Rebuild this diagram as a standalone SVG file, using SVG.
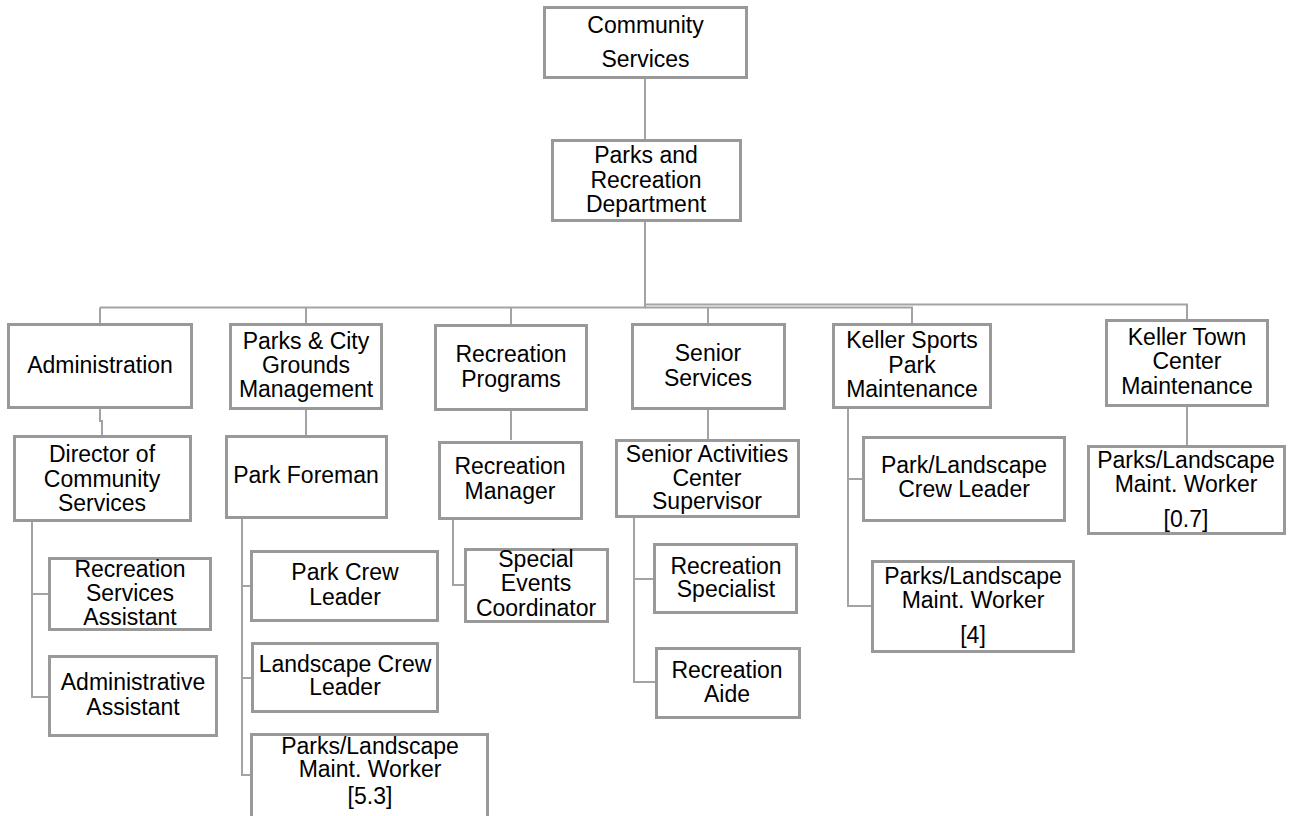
<svg xmlns="http://www.w3.org/2000/svg" width="1289" height="816" viewBox="0 0 1289 816">
<style>
.box{fill:#fff;stroke:#999;stroke-width:3}
.conn{fill:none;stroke:#a3a3a3;stroke-width:2}
text{font-family:"Liberation Sans",Arial,sans-serif;font-size:23px;fill:#000;text-anchor:middle}
</style>
<rect x="0" y="0" width="1289" height="816" fill="#fff"/>
<g id="connectors">
<path class="conn" d="M645,79 V140"/>
<path class="conn" d="M645,222 V307.5"/>
<path class="conn" d="M100,307.5 H646"/>
<path class="conn" d="M645,304.5 H1187 V320"/>
<path class="conn" d="M645,307.5 H912 V323"/>
<path class="conn" d="M100,307.5 V323 M306,307.5 V323 M511,307.5 V324 M708,307.5 V323"/>
<path class="conn" d="M100,409 V421 H102 V435"/>
<path class="conn" d="M306,410 V435"/>
<path class="conn" d="M511,411 V440"/>
<path class="conn" d="M708,410 V439"/>
<path class="conn" d="M1187,407 V445"/>
<path class="conn" d="M32,522 V697 H48 M32,594 H48"/>
<path class="conn" d="M242,519 V775 H250 M242,586 H250 M242,678 H251"/>
<path class="conn" d="M453,520 V585 H464"/>
<path class="conn" d="M634,518 V682 H655 M634,579 H653"/>
<path class="conn" d="M848,409 V606 H871 M848,479 H862"/>
</g>
<g id="community-services"><rect class="box" x="544.5" y="7.5" width="202" height="70"/><text x="645.5" y="33">Community</text><text x="645.5" y="67">Services</text></g>
<g id="parks-rec-dept"><rect class="box" x="552.5" y="140.5" width="188" height="80"/><text x="646" y="163">Parks and</text><text x="646" y="188">Recreation</text><text x="646" y="212">Department</text></g>
<g id="administration"><rect class="box" x="8.5" y="324.5" width="183" height="83"/><text x="100" y="373">Administration</text></g>
<g id="parks-city-grounds"><rect class="box" x="230.5" y="324.5" width="151" height="84"/><text x="306" y="349">Parks &amp; City</text><text x="306" y="373">Grounds</text><text x="306" y="397">Management</text></g>
<g id="recreation-programs"><rect class="box" x="435.5" y="325.5" width="151" height="84"/><text x="511" y="362">Recreation</text><text x="511" y="387">Programs</text></g>
<g id="senior-services"><rect class="box" x="632.5" y="324.5" width="152" height="84"/><text x="708" y="361">Senior</text><text x="708" y="386">Services</text></g>
<g id="keller-sports"><rect class="box" x="833.5" y="324.5" width="157" height="83"/><text x="912" y="348">Keller Sports</text><text x="912" y="373">Park</text><text x="912" y="397">Maintenance</text></g>
<g id="keller-town"><rect class="box" x="1106.5" y="320.5" width="161" height="85"/><text x="1187" y="345">Keller Town</text><text x="1187" y="369">Center</text><text x="1187" y="394">Maintenance</text></g>
<g id="director"><rect class="box" x="14.5" y="436.5" width="176" height="84"/><text x="102" y="462">Director of</text><text x="102" y="487">Community</text><text x="102" y="511">Services</text></g>
<g id="rec-services-assistant"><rect class="box" x="49.5" y="558.5" width="161" height="71"/><text x="130" y="577">Recreation</text><text x="130" y="601">Services</text><text x="130" y="625">Assistant</text></g>
<g id="administrative-assistant"><rect class="box" x="49.5" y="656.5" width="167" height="79"/><text x="133" y="690">Administrative</text><text x="133" y="715">Assistant</text></g>
<g id="park-foreman"><rect class="box" x="226.5" y="436.5" width="160" height="81"/><text x="306" y="483">Park Foreman</text></g>
<g id="park-crew-leader"><rect class="box" x="251.5" y="551.5" width="186" height="69"/><text x="345" y="580">Park Crew</text><text x="345" y="605">Leader</text></g>
<g id="landscape-crew-leader"><rect class="box" x="252.5" y="643.5" width="185" height="68"/><text x="345" y="672">Landscape Crew</text><text x="345" y="695">Leader</text></g>
<g id="parks-landscape-53"><rect class="box" x="251.5" y="734.5" width="236" height="90"/><text x="370" y="754">Parks/Landscape</text><text x="370" y="777">Maint. Worker</text><text x="370" y="804">[5.3]</text></g>
<g id="recreation-manager"><rect class="box" x="439.5" y="442.5" width="142" height="76"/><text x="510" y="474">Recreation</text><text x="510" y="499">Manager</text></g>
<g id="special-events"><rect class="box" x="465.5" y="549.5" width="142" height="72"/><text x="536" y="567">Special</text><text x="536" y="591">Events</text><text x="536" y="616">Coordinator</text></g>
<g id="senior-activities"><rect class="box" x="616.5" y="440.5" width="182" height="76"/><text x="707" y="462">Senior Activities</text><text x="707" y="486">Center</text><text x="707" y="509">Supervisor</text></g>
<g id="recreation-specialist"><rect class="box" x="654.5" y="544.5" width="142" height="68"/><text x="726" y="574">Recreation</text><text x="726" y="597">Specialist</text></g>
<g id="recreation-aide"><rect class="box" x="656.5" y="648.5" width="143" height="69"/><text x="727" y="678">Recreation</text><text x="727" y="702">Aide</text></g>
<g id="park-landscape-crew-leader"><rect class="box" x="863.5" y="437.5" width="201" height="83"/><text x="964" y="473">Park/Landscape</text><text x="964" y="497">Crew Leader</text></g>
<g id="parks-landscape-4"><rect class="box" x="872.5" y="561.5" width="201" height="90"/><text x="973" y="584">Parks/Landscape</text><text x="973" y="608">Maint. Worker</text><text x="973" y="643">[4]</text></g>
<g id="parks-landscape-07"><rect class="box" x="1088.5" y="446.5" width="196" height="87"/><text x="1186" y="468">Parks/Landscape</text><text x="1186" y="492">Maint. Worker</text><text x="1186" y="527">[0.7]</text></g>
</svg>
